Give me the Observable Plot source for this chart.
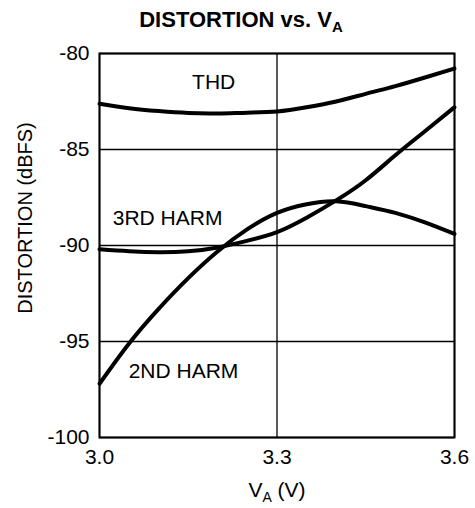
<!DOCTYPE html>
<html>
<head>
<meta charset="utf-8">
<script src="https://cdn.jsdelivr.net/npm/d3@7"></script>
<script src="https://cdn.jsdelivr.net/npm/@observablehq/plot@0.6"></script>
<style>
  html, body { margin: 0; padding: 0; background: #fff; }
  svg { display: block; }
</style>
</head>
<body>
<div id="chart"></div>
<script>
// Supply voltage (V)
const va = [3.00, 3.05, 3.10, 3.15, 3.20, 3.25, 3.30, 3.35, 3.40, 3.45, 3.50, 3.55, 3.60];
// THD (dBFS)
const thd = [-82.62, -82.85, -83.00, -83.10, -83.12, -83.08, -83.02, -82.80, -82.50, -82.10, -81.70, -81.25, -80.78];
// 2nd harmonic (dBFS)
const harm2 = [-97.20, -95.10, -93.30, -91.70, -90.30, -89.15, -88.30, -87.85, -87.70, -87.95, -88.30, -88.80, -89.40];
// 3rd harmonic (dBFS)
const harm3 = [-90.20, -90.30, -90.35, -90.30, -90.10, -89.75, -89.30, -88.55, -87.65, -86.60, -85.30, -84.05, -82.80];

const xTicks = [3.0, 3.3, 3.6];
const yTicks = [-80, -85, -90, -95, -100];

const labelNames = ["THD", "3RD HARM", "2ND HARM"];
const labelX = [3.193, 3.115, 3.142];
const labelY = [-81.5, -88.6, -96.55];

const series = [
  {name: "THD", values: thd},
  {name: "2ND", values: harm2},
  {name: "3RD", values: harm3}
];
const rows = series.flatMap(s => va.map((v, i) => ({series: s.name, x: v, y: s.values[i]})));
const labels = labelNames.map((t, i) => ({text: t, x: labelX[i], y: labelY[i]}));

const font = "'Liberation Sans', Arial, Helvetica, sans-serif";

const chart = Plot.plot({
  width: 475,
  height: 508,
  marginTop: 53,
  marginBottom: 71,
  marginLeft: 99,
  marginRight: 21,
  style: {fontFamily: font, fontSize: "21px", color: "#000", background: "#fff"},
  x: {domain: [3.0, 3.6], ticks: xTicks, tickFormat: d3.format(".1f"), tickSize: 0, tickPadding: 12, label: null},
  y: {domain: [-100, -80], ticks: yTicks, tickFormat: d => String(d), tickSize: 0, tickPadding: 10, label: null},
  marks: [
    Plot.ruleX(xTicks, {stroke: "#000", strokeWidth: 1.3}),
    Plot.ruleY(yTicks, {stroke: "#000", strokeWidth: 1.3}),
    Plot.line(rows, {x: "x", y: "y", z: "series", curve: "natural", stroke: "#000", strokeWidth: 4}),
    Plot.text(labels, {x: "x", y: "y", text: "text", fontSize: 21, fill: "#000"}),
    Plot.frame({stroke: "#000", strokeWidth: 2}),
    Plot.axisX({ticks: xTicks, tickFormat: d3.format(".1f"), tickSize: 0, tickPadding: 12, fontSize: 21, label: null}),
    Plot.axisY({ticks: yTicks, tickFormat: d => String(d), tickSize: 0, tickPadding: 10, fontSize: 21, label: null})
  ]
});

const svg = d3.select(chart);
// Title
const title = svg.append("text")
  .attr("x", 241).attr("y", 27)
  .attr("text-anchor", "middle")
  .attr("font-family", font)
  .attr("font-weight", "bold")
  .attr("font-size", 22)
  .attr("fill", "#000");
title.append("tspan").text("DISTORTION vs. V");
title.append("tspan").attr("font-size", 15).attr("dy", 5).text("A");

// X axis label
const xl = svg.append("text")
  .attr("x", 277).attr("y", 497)
  .attr("text-anchor", "middle")
  .attr("font-family", font)
  .attr("font-size", 21)
  .attr("fill", "#000");
xl.append("tspan").text("V");
xl.append("tspan").attr("font-size", 14).attr("dy", 5).text("A");
xl.append("tspan").attr("dy", -5).text(" (V)");

// Y axis label
svg.append("text")
  .attr("transform", "translate(32,218) rotate(-90)")
  .attr("text-anchor", "middle")
  .attr("font-family", font)
  .attr("font-size", 20)
  .attr("fill", "#000")
  .text("DISTORTION (dBFS)");

document.getElementById("chart").appendChild(chart);
</script>
</body>
</html>
